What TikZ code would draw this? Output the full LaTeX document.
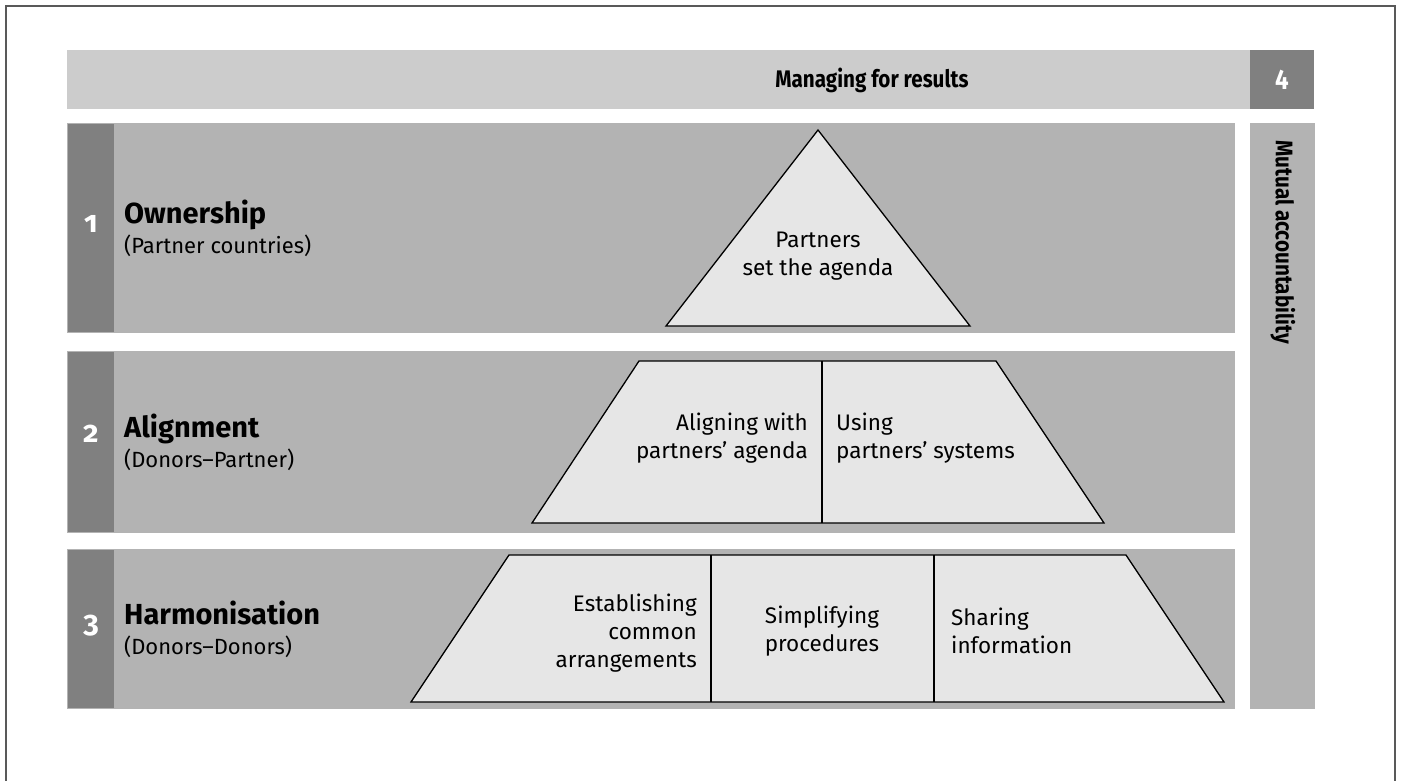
\documentclass[tikz,border=0pt]{standalone}
\usepackage{fontspec}
\setmainfont{Fira Sans}
\newfontfamily\narrowsans{Fira Sans}[FakeStretch=0.86]
\usepackage{tikz}
\usetikzlibrary{positioning}

\definecolor{hdrgray}{HTML}{CCCCCC}
\definecolor{rowgray}{HTML}{B3B3B3}
\definecolor{tabgray}{HTML}{808080}
\definecolor{panegray}{HTML}{E6E6E6}
\definecolor{framegray}{HTML}{595959}

\begin{document}
\begin{tikzpicture}[x=1pt,y=-1pt,
  txt/.style={inner sep=0pt,font=\fontsize{22.5}{28}\selectfont},
  title/.style={inner sep=0pt,anchor=base west,font=\fontsize{29}{30}\selectfont\bfseries},
  subtitle/.style={inner sep=0pt,anchor=base west,font=\fontsize{22}{26}\selectfont},
  label/.style={inner sep=0pt,font=\narrowsans\fontsize{24}{24}\selectfont\bfseries},
  num/.style={inner sep=0pt,anchor=base,text=white,
    font=\fontsize{30}{30}\selectfont\bfseries\addfontfeatures{Numbers=OldStyle}},
  band/.style={fill=rowgray},
  tab/.style={fill=tabgray},
  pane/.style={fill=panegray,draw=black,line width=1.3pt,line join=miter},
  divider/.style={draw=black,line width=1.3pt}]
  \useasboundingbox (0,0) rectangle (1401,781);
  \draw[framegray,line width=2pt] (6,781) -- (6,6) -- (1395,6) -- (1395,781);

  % header and column 4
  \fill[hdrgray] (67,50) rectangle (1250,109);
  \fill[tab] (1250,50) rectangle (1314,109);
  \node[label] (results) at (872,80) {Managing for results};
  \node[label,text=white,font=\narrowsans\fontsize{28}{28}\selectfont\bfseries] (four) at (1282,80) {4};
  \fill[band] (1250,123) rectangle (1315,709);
  \node[label,anchor=west,rotate=-90] (mutual) at (1283,140) {Mutual accountability};

  % rows
  \fill[band] (67,123) rectangle (1235,333);
  \fill[band] (67,351) rectangle (1235,533);
  \fill[band] (67,549) rectangle (1235,709);
  \fill[tab] (68,124) rectangle (114,332);
  \fill[tab] (68,352) rectangle (114,532);
  \fill[tab] (68,550) rectangle (114,708);

  \node[num] (n1) at (91,233) {1};
  \node[num] (n2) at (91,442) {2};
  \node[num] (n3) at (91,632) {3};

  \node[title] (own) at (124,223) {Ownership};
  \node[subtitle] (ownsub) at (124,253) {(Partner countries)};
  \node[title] (align) at (124,437) {Alignment};
  \node[subtitle] (alignsub) at (124,467) {(Donors–Partner)};
  \node[title] (harm) at (124,624) {Harmonisation};
  \node[subtitle] (harmsub) at (124,654) {(Donors–Donors)};

  % pyramid
  \filldraw[pane] (818,130) -- (970,326) -- (666,326) -- cycle;
  \node[txt,align=center] (agenda) at (818,256) {Partners\\set the agenda};

  \filldraw[pane] (532,523) -- (639,361) -- (996,361) -- (1104,523) -- cycle;
  \draw[divider] (822,361) -- (822,523);
  \node[txt,anchor=east,align=right] (aligning) at (808,438) {Aligning with\\partners’ agenda};
  \node[txt,anchor=west,align=left] (using) at (836,438) {Using\\partners’ systems};

  \filldraw[pane] (411,702) -- (509,555) -- (1126,555) -- (1224,702) -- cycle;
  \draw[divider] (711,555) -- (711,702);
  \draw[divider] (934,555) -- (934,702);
  \node[txt,anchor=east,align=right] (common) at (697,633) {Establishing\\common\\arrangements};
  \node[txt,align=center] (simplify) at (822,631) {Simplifying\\procedures};
  \node[txt,anchor=west,align=left] (sharing) at (951,631) {Sharing\\information};
\end{tikzpicture}
\end{document}
